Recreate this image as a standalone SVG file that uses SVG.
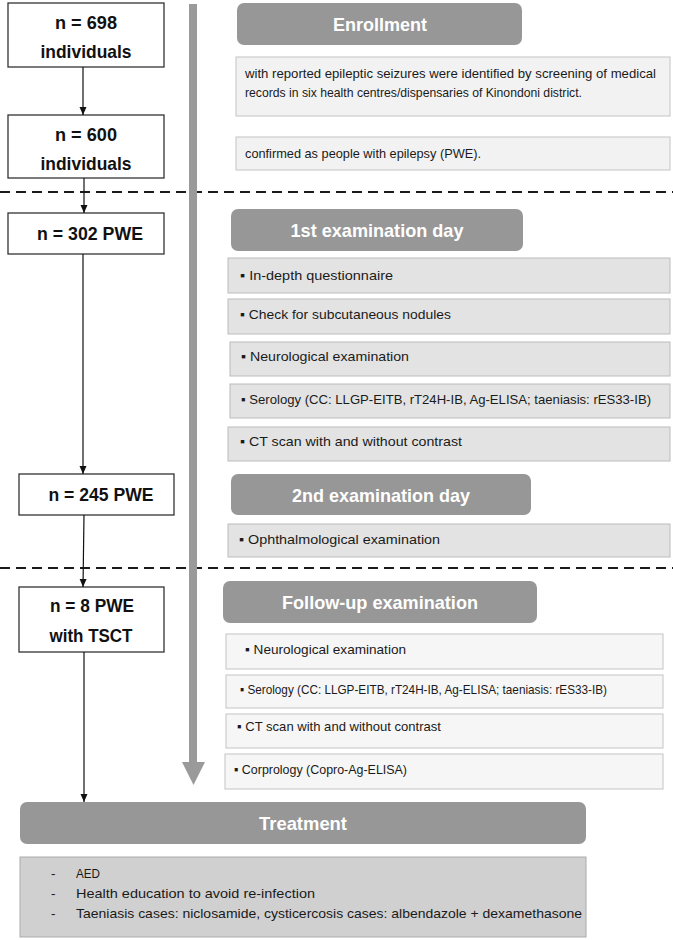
<svg xmlns="http://www.w3.org/2000/svg" width="673" height="940" viewBox="0 0 673 940">
<style>
text{font-family:"Liberation Sans",Arial,sans-serif;}
.node rect{fill:#fff;stroke:#333;stroke-width:1.3;}
.nt{font-weight:bold;font-size:19px;fill:#111;text-anchor:middle;}
.hdr rect{fill:#979797;}
.ht{font-weight:bold;font-size:19px;fill:#fff;text-anchor:middle;}
.b1{fill:#f2f2f2;stroke:#c4c4c4;stroke-width:1;}
.b2{fill:#e3e3e3;stroke:#bcbcbc;stroke-width:1;}
.b3{fill:#f6f6f6;stroke:#c4c4c4;stroke-width:1;}
.b4{fill:#d0d0d0;stroke:#ababab;stroke-width:1;}
.it{font-size:13.5px;fill:#1a1a1a;}
.conn line{stroke:#111;stroke-width:1.2;}
.dash{stroke:#1a1a1a;stroke-width:2;stroke-dasharray:10 6;}
</style>
<defs>
<marker id="ah" viewBox="0 0 8 8" refX="8" refY="4" markerWidth="8" markerHeight="8" markerUnits="userSpaceOnUse" orient="auto">
<path d="M0,0.5 L8,4 L0,7.5 Z" fill="#111"/>
</marker>
</defs>

<!-- dashed separators -->
<line class="dash" x1="0" y1="192" x2="673" y2="192"/>
<line class="dash" x1="0" y1="568" x2="673" y2="568"/>

<!-- big timeline arrow -->
<g id="timeline">
<rect x="189" y="4" width="8" height="760" fill="#9a9a9a"/>
<path d="M182,762 L205,762 L193.5,785 Z" fill="#9a9a9a"/>
</g>

<!-- nodes (left column) -->
<g id="n698" class="node"><rect x="8" y="3" width="156" height="64"/>
<text class="nt" x="86" y="29" textLength="62" lengthAdjust="spacingAndGlyphs">n = 698</text><text class="nt" x="86" y="58" textLength="91" lengthAdjust="spacingAndGlyphs">individuals</text></g>
<g id="n600" class="node"><rect x="8" y="115" width="156" height="63"/>
<text class="nt" x="86" y="141" textLength="62" lengthAdjust="spacingAndGlyphs">n = 600</text><text class="nt" x="86" y="170" textLength="91" lengthAdjust="spacingAndGlyphs">individuals</text></g>
<g id="n302" class="node"><rect x="8" y="213" width="156" height="41"/>
<text class="nt" x="90" y="240" textLength="106" lengthAdjust="spacingAndGlyphs">n = 302 PWE</text></g>
<g id="n245" class="node"><rect x="19" y="474" width="155" height="41"/>
<text class="nt" x="101" y="501" textLength="105" lengthAdjust="spacingAndGlyphs">n = 245 PWE</text></g>
<g id="n8" class="node"><rect x="19" y="587" width="145" height="65"/>
<text class="nt" x="92" y="612" textLength="84" lengthAdjust="spacingAndGlyphs">n = 8 PWE</text><text class="nt" x="91" y="642" textLength="83" lengthAdjust="spacingAndGlyphs">with TSCT</text></g>

<!-- connectors -->
<g id="connectors" class="conn">
<line x1="83" y1="67" x2="83" y2="115" marker-end="url(#ah)"/>
<line x1="84" y1="178" x2="84" y2="213" marker-end="url(#ah)"/>
<line x1="83" y1="254" x2="83" y2="474" marker-end="url(#ah)"/>
<line x1="84" y1="515" x2="83" y2="587" marker-end="url(#ah)"/>
<line x1="84" y1="652" x2="84" y2="802" marker-end="url(#ah)"/>
</g>

<!-- Enrollment -->
<g id="enrollment" class="hdr"><rect x="237" y="3" width="285" height="42" rx="7"/>
<text class="ht" x="380" y="31" textLength="94" lengthAdjust="spacingAndGlyphs">Enrollment</text></g>
<g id="enroll-1"><rect class="b1" x="236" y="57" width="434" height="59"/>
<text class="it" x="245" y="78" textLength="411" lengthAdjust="spacingAndGlyphs">with reported epileptic seizures were identified by screening of medical</text>
<text class="it" x="245" y="97" textLength="337" lengthAdjust="spacingAndGlyphs">records in six health centres/dispensaries of Kinondoni district.</text></g>
<g id="enroll-2"><rect class="b1" x="236" y="137" width="434" height="33"/>
<text class="it" x="245" y="158" textLength="236" lengthAdjust="spacingAndGlyphs">confirmed as people with epilepsy (PWE).</text></g>

<!-- 1st examination day -->
<g id="exam1" class="hdr"><rect x="231" y="209" width="292" height="42" rx="7"/>
<text class="ht" x="377" y="237" textLength="173" lengthAdjust="spacingAndGlyphs">1st examination day</text></g>
<g id="e1-q"><rect class="b2" x="228" y="258" width="442" height="35"/>
<text class="it" x="240" y="280" textLength="153" lengthAdjust="spacingAndGlyphs">▪ In-depth questionnaire</text></g>
<g id="e1-n"><rect class="b2" x="228" y="299" width="442" height="35"/>
<text class="it" x="240" y="319" textLength="211" lengthAdjust="spacingAndGlyphs">▪ Check for subcutaneous nodules</text></g>
<g id="e1-neuro"><rect class="b2" x="230" y="342" width="440" height="34"/>
<text class="it" x="241" y="361" textLength="168" lengthAdjust="spacingAndGlyphs">▪ Neurological examination</text></g>
<g id="e1-sero"><rect class="b2" x="230" y="384" width="440" height="34"/>
<text class="it" x="241" y="404" textLength="410" lengthAdjust="spacingAndGlyphs">▪ Serology (CC: LLGP-EITB, rT24H-IB, Ag-ELISA; taeniasis: rES33-IB)</text></g>
<g id="e1-ct"><rect class="b2" x="228" y="427" width="442" height="34"/>
<text class="it" x="240" y="446" textLength="222" lengthAdjust="spacingAndGlyphs">▪ CT scan with and without contrast</text></g>

<!-- 2nd examination day -->
<g id="exam2" class="hdr"><rect x="231" y="474" width="300" height="41" rx="7"/>
<text class="ht" x="381" y="502" textLength="178" lengthAdjust="spacingAndGlyphs">2nd examination day</text></g>
<g id="e2-oph"><rect class="b2" x="228" y="524" width="442" height="33"/>
<text class="it" x="239" y="544" textLength="201" lengthAdjust="spacingAndGlyphs">▪ Ophthalmological examination</text></g>

<!-- Follow-up examination -->
<g id="followup" class="hdr"><rect x="223" y="581" width="314" height="42" rx="7"/>
<text class="ht" x="380" y="609" textLength="196" lengthAdjust="spacingAndGlyphs">Follow-up examination</text></g>
<g id="f-neuro"><rect class="b3" x="226" y="634" width="437" height="35"/>
<text class="it" x="245" y="654" font-size="13" textLength="161" lengthAdjust="spacingAndGlyphs">▪ Neurological examination</text></g>
<g id="f-sero"><rect class="b3" x="226" y="675" width="437" height="33"/>
<text class="it" x="240" y="694" font-size="12.5" textLength="367" lengthAdjust="spacingAndGlyphs">▪ Serology (CC: LLGP-EITB, rT24H-IB, Ag-ELISA; taeniasis: rES33-IB)</text></g>
<g id="f-ct"><rect class="b3" x="226" y="714" width="437" height="34"/>
<text class="it" x="237" y="731" font-size="13" textLength="204" lengthAdjust="spacingAndGlyphs">▪ CT scan with and without contrast</text></g>
<g id="f-copro"><rect class="b3" x="225" y="754" width="438" height="35"/>
<text class="it" x="234" y="774" font-size="12.5" textLength="173" lengthAdjust="spacingAndGlyphs">▪ Corprology (Copro-Ag-ELISA)</text></g>

<!-- Treatment -->
<g id="treatment" class="hdr"><rect x="20" y="802" width="566" height="42" rx="7" fill="#959595"/>
<text class="ht" x="303" y="830" textLength="88" lengthAdjust="spacingAndGlyphs">Treatment</text></g>
<g id="treat-list"><rect class="b4" x="20" y="857" width="566" height="80"/>
<text class="it" x="51" y="878">-</text><text class="it" x="76" y="878" font-size="14" textLength="24" lengthAdjust="spacingAndGlyphs">AED</text>
<text class="it" x="51" y="898">-</text><text class="it" x="76" y="898" font-size="14" textLength="239" lengthAdjust="spacingAndGlyphs">Health education to avoid re-infection</text>
<text class="it" x="51" y="918">-</text><text class="it" x="76" y="918" font-size="14" textLength="506" lengthAdjust="spacingAndGlyphs">Taeniasis cases: niclosamide, cysticercosis cases: albendazole + dexamethasone</text></g>
</svg>
